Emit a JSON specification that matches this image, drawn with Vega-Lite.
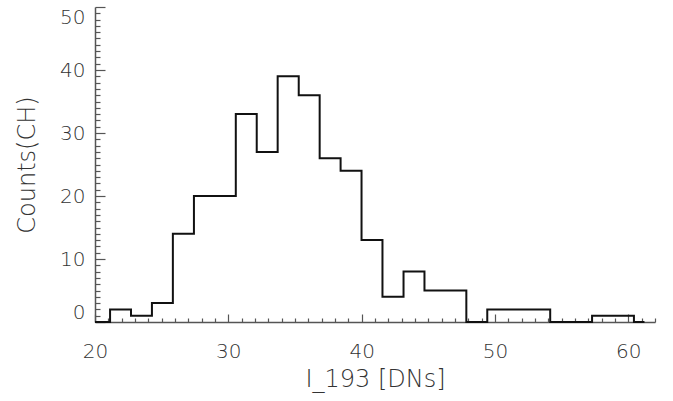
{
  "$schema": "https://vega.github.io/schema/vega-lite/v6.json",
  "autosize": "none",
  "width": 560,
  "height": 315,
  "padding": {"left": 95, "top": 7, "right": 18, "bottom": 79},
  "background": "white",
  "config": {
    "view": {"stroke": null},
    "axis": {
      "grid": false,
      "labelFont": "DejaVu Sans",
      "titleFont": "DejaVu Sans",
      "labelFontSize": 20,
      "titleFontSize": 24,
      "labelFontWeight": 200,
      "titleFontWeight": 200,
      "labelColor": "#333",
      "titleColor": "#333",
      "domainColor": "#555",
      "tickColor": "#555",
      "domainWidth": 1.5,
      "tickWidth": 1.2
    }
  },
  "data": {
    "values": [
      {"lo": 20.0, "count": 0},
      {"lo": 21.13, "count": 2},
      {"lo": 22.7, "count": 1},
      {"lo": 24.27, "count": 3},
      {"lo": 25.84, "count": 14},
      {"lo": 27.42, "count": 20},
      {"lo": 28.99, "count": 20},
      {"lo": 30.56, "count": 33},
      {"lo": 32.13, "count": 27},
      {"lo": 33.7, "count": 39},
      {"lo": 35.28, "count": 36},
      {"lo": 36.85, "count": 26},
      {"lo": 38.42, "count": 24},
      {"lo": 39.99, "count": 13},
      {"lo": 41.56, "count": 4},
      {"lo": 43.14, "count": 8},
      {"lo": 44.71, "count": 5},
      {"lo": 46.28, "count": 5},
      {"lo": 47.85, "count": 0},
      {"lo": 49.42, "count": 2},
      {"lo": 50.99, "count": 2},
      {"lo": 52.57, "count": 2},
      {"lo": 54.14, "count": 0},
      {"lo": 55.71, "count": 0},
      {"lo": 57.28, "count": 1},
      {"lo": 58.85, "count": 1},
      {"lo": 60.42, "count": 0},
      {"lo": 61.21, "count": 0}
    ]
  },
  "layer": [
    {
      "mark": {"type": "point", "opacity": 0},
      "encoding": {
        "x": {
          "field": "lo", "type": "quantitative",
          "scale": {"domain": [20, 62], "nice": false, "zero": false},
          "axis": {"orient": "bottom", "values": [21,22,23,24,25,26,27,28,29,31,32,33,34,35,36,37,38,39,41,42,43,44,45,46,47,48,49,51,52,53,54,55,56,57,58,59,61,62], "labels": false, "title": null, "domain": false, "tickSize": -4}
        },
        "y": {
          "field": "count", "type": "quantitative",
          "scale": {"domain": [0, 50], "nice": false},
          "axis": {"orient": "left", "values": [1,2,3,4,5,6,7,8,9,11,12,13,14,15,16,17,18,19,21,22,23,24,25,26,27,28,29,31,32,33,34,35,36,37,38,39,41,42,43,44,45,46,47,48,49], "labels": false, "title": null, "domain": false, "tickSize": -5}
        }
      }
    },
    {
      "mark": {"type": "line", "interpolate": "step-after", "color": "#111", "strokeWidth": 2},
      "encoding": {
        "x": {
          "field": "lo", "type": "quantitative",
          "axis": {"orient": "bottom", "values": [20, 30, 40, 50, 60], "tickSize": -8, "labelPadding": 27, "labelFlush": false, "title": "I_193 [DNs]", "titlePadding": 6}
        },
        "y": {
          "field": "count", "type": "quantitative",
          "axis": {"orient": "left", "values": [0, 10, 20, 30, 40, 50], "tickSize": -10, "labelPadding": 20, "labelFlush": true, "title": "Counts(CH)", "titlePadding": 20}
        }
      }
    }
  ],
  "resolve": {"axis": {"x": "independent", "y": "independent"}}
}
